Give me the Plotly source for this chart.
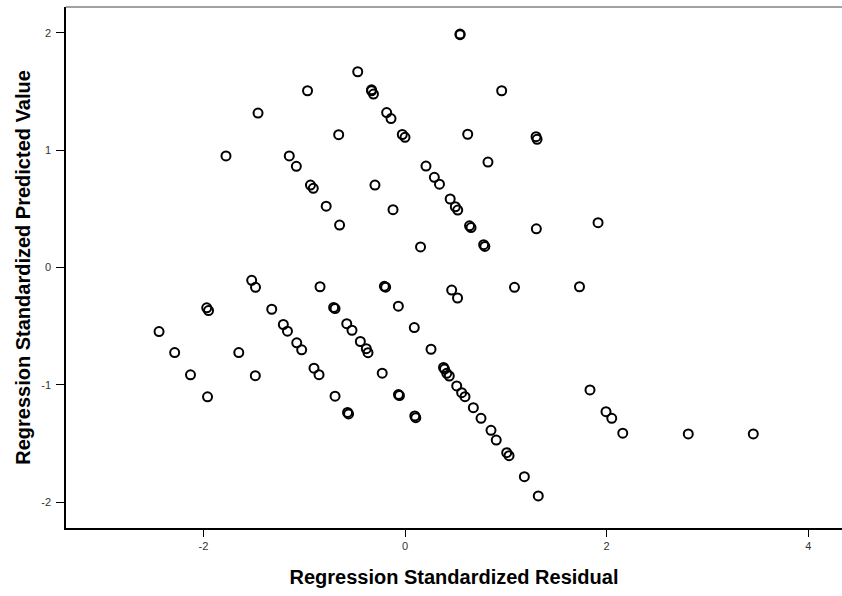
import plotly.graph_objects as go

# Standardized residuals (x) vs standardized predicted values (y)
residual = [
    0.546, 0.546, -0.469, -0.332, -0.332, -0.313, -0.967, -1.458, 0.959, -0.182,
    -0.139, -0.658, -0.027, 0.000, 0.622, 1.300, 1.310, -1.776, -1.148, -1.078,
    -0.938, -0.910, -0.298, 0.208, 0.291, 0.342, 0.823, 0.448, 0.499, 0.523,
    -0.782, -0.119, -0.649, 0.640, 0.655, 0.780, 0.792, 1.303, 1.915, 0.154,
    -1.521, -1.483, -0.843, -0.205, -0.192, 0.463, 0.521, 1.086, 1.731, -1.967,
    -1.949, -1.322, -1.207, -1.166, -1.074, -1.025, -0.903, -0.853, -0.708, -0.694,
    -0.578, -0.526, -0.443, -0.384, -0.367, -0.226, -0.066, 0.092, 0.258, -2.440,
    -2.285, -2.128, -1.959, -1.649, -1.485, -0.694, -0.570, -0.560, -0.065, -0.055,
    0.097, 0.107, 0.382, 0.392, 0.414, 0.439, 0.513, 0.562, 0.595, 0.678,
    0.754, 0.853, 0.905, 1.009, 1.032, 1.184, 1.322, 1.835, 1.994, 2.051,
    2.160, 2.810, 3.455,
]
predicted = [
    1.985, 1.990, 1.669, 1.507, 1.515, 1.479, 1.507, 1.317, 1.507, 1.321,
    1.270, 1.132, 1.134, 1.110, 1.136, 1.115, 1.093, 0.951, 0.951, 0.863,
    0.703, 0.675, 0.703, 0.865, 0.769, 0.710, 0.899, 0.584, 0.518, 0.490,
    0.523, 0.493, 0.362, 0.355, 0.340, 0.195, 0.180, 0.330, 0.382, 0.175,
    -0.109, -0.169, -0.164, -0.160, -0.168, -0.192, -0.260, -0.169, -0.164, -0.344,
    -0.367, -0.356, -0.486, -0.543, -0.642, -0.702, -0.858, -0.914, -0.340, -0.350,
    -0.479, -0.535, -0.631, -0.692, -0.726, -0.901, -0.330, -0.512, -0.697, -0.546,
    -0.725, -0.915, -1.103, -0.725, -0.922, -1.097, -1.236, -1.248, -1.083, -1.092,
    -1.266, -1.280, -0.852, -0.866, -0.902, -0.925, -1.010, -1.067, -1.101, -1.195,
    -1.286, -1.388, -1.471, -1.579, -1.604, -1.783, -1.948, -1.044, -1.229, -1.286,
    -1.413, -1.419, -1.419,
]

x_ticks = [-2, 0, 2, 4]
y_ticks = [-2, -1, 0, 1, 2]

fig = go.Figure(
    go.Scatter(
        x=residual,
        y=predicted,
        mode="markers",
        marker=dict(
            symbol="circle-open",
            size=9,
            color="black",
            line=dict(width=2, color="black"),
        ),
        hoverinfo="x+y",
    )
)

axis_font = dict(family="Liberation Sans, Arial, sans-serif", size=11, color="#333333")
title_font = dict(family="Liberation Sans, Arial, sans-serif", size=20, color="black")

fig.update_layout(
    width=842,
    height=596,
    margin=dict(l=66, r=0, t=7, b=68),
    plot_bgcolor="white",
    paper_bgcolor="white",
    showlegend=False,
    xaxis=dict(
        range=[-3.363, 4.335],
        tickvals=x_ticks,
        ticktext=[str(v) for v in x_ticks],
        ticks="outside",
        ticklen=7,
        tickwidth=1,
        tickcolor="black",
        showline=True,
        linecolor="black",
        linewidth=1.5,
        showgrid=False,
        zeroline=False,
        tickfont=axis_font,
        title=dict(
            text="<b>Regression Standardized Residual</b>",
            font=title_font,
            standoff=19,
        ),
    ),
    yaxis=dict(
        range=[-2.221, 2.221],
        tickvals=y_ticks,
        ticktext=[str(v) for v in y_ticks],
        ticks="outside",
        ticklen=8,
        tickwidth=1,
        tickcolor="black",
        ticklabelstandoff=3,
        showline=True,
        linecolor="black",
        linewidth=1.5,
        showgrid=False,
        zeroline=False,
        tickfont=axis_font,
        title=dict(
            text="<b>Regression Standardized Predicted Value</b>",
            font=title_font,
            standoff=5,
        ),
    ),
    # thin frame line along the top of the plotting area
    shapes=[
        dict(
            type="line",
            xref="paper",
            yref="paper",
            x0=0,
            x1=1,
            y0=1,
            y1=1,
            line=dict(color="#444444", width=1.2),
        )
    ],
)

fig.write_html("out.html")
